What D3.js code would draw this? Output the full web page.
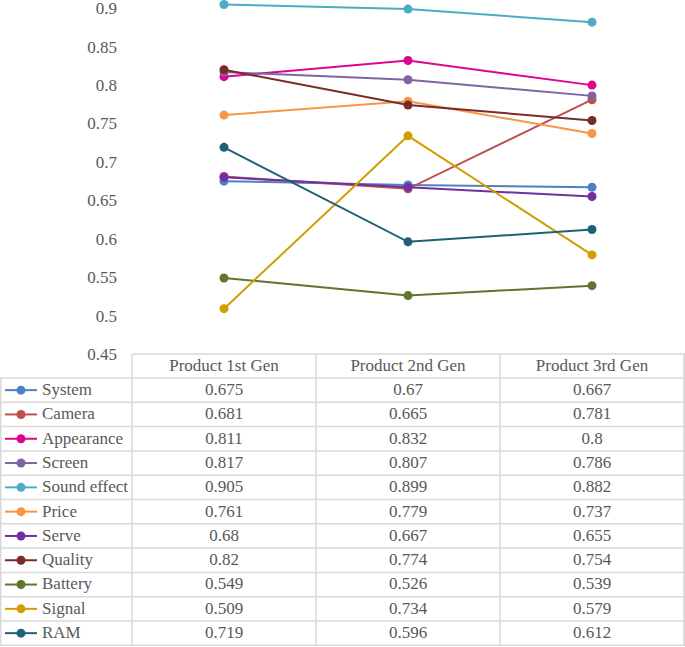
<!DOCTYPE html>
<html><head><meta charset="utf-8">
<script src="https://cdn.jsdelivr.net/npm/d3@7"></script>
<style>body{margin:0;background:#fff}svg{display:block}svg text{font-family:"Liberation Serif","Times New Roman","DejaVu Serif",serif !important;}</style>
</head><body><svg id="c" width="685" height="647"></svg>
<script>
const categories = ["Product 1st Gen","Product 2nd Gen","Product 3rd Gen"];
const seriesNames = ["System","Camera","Appearance","Screen","Sound effect","Price","Serve","Quality","Battery","Signal","RAM"];
const System = [0.675,0.67,0.667];
const Camera = [0.681,0.665,0.781];
const Appearance = [0.811,0.832,0.8];
const Screen = [0.817,0.807,0.786];
const SoundEffect = [0.905,0.899,0.882];
const Price = [0.761,0.779,0.737];
const Serve = [0.68,0.667,0.655];
const Quality = [0.82,0.774,0.754];
const Battery = [0.549,0.526,0.539];
const Signal = [0.509,0.734,0.579];
const RAM = [0.719,0.596,0.612];
const seriesValues = [System,Camera,Appearance,Screen,SoundEffect,Price,Serve,Quality,Battery,Signal,RAM];
const colors = ["#4f7fc4","#c0504d","#dd0590","#8064a2","#4bacc6","#f79646","#7030a0","#772c2a","#5f7530","#d19e00","#1f6275"];
const yTicks = [0.45,0.5,0.55,0.6,0.65,0.7,0.75,0.8,0.85,0.9];

(function(){
const svg = d3.select("#c");
const textCol = "#595959", gridCol = "#d9d9d9", fs = 17;

const x = d3.scaleBand().domain(categories).range([132,684]);
const y = d3.scaleLinear().domain([0.45,0.9]).range([354,8.3]);

const yAxis = d3.axisLeft(y).tickValues(yTicks).tickSize(0).tickPadding(0)
  .tickFormat(d => String(+d.toFixed(2)));
const ga = svg.append("g").attr("transform","translate(117,0)").call(yAxis);
ga.select(".domain").remove();
ga.attr("font-size",fs);
ga.selectAll("text").attr("font-size",fs).attr("fill",textCol);

const line = d3.line().x((d,i)=>x(categories[i])+x.bandwidth()/2).y(d=>y(d));
seriesValues.forEach((vals,k)=>{
  svg.append("path").attr("d",line(vals)).attr("fill","none").attr("stroke",colors[k]).attr("stroke-width",2);
});
seriesValues.forEach((vals,k)=>{
  svg.selectAll(null).data(vals).enter().append("circle")
    .attr("cx",(d,i)=>x(categories[i])+x.bandwidth()/2).attr("cy",d=>y(d)).attr("r",4.5)
    .attr("fill",colors[k]);
});

const rowH = 24.3, tTop = 354, headH = 24;
const rows = d3.scaleBand().domain(seriesNames).range([tTop+headH, tTop+headH+rowH*seriesNames.length]);
const t = svg.append("g");
t.append("line").attr("x1",132).attr("x2",685).attr("y1",tTop).attr("y2",tTop).attr("stroke",gridCol).attr("stroke-width",1.5);
categories.forEach(c=>{
  t.append("text").attr("x",x(c)+x.bandwidth()/2).attr("y",tTop+headH/2+1).attr("text-anchor","middle")
   .attr("dominant-baseline","middle").attr("font-size",fs).attr("fill",textCol).text(c);
});
const yEnd = tTop+headH+rowH*seriesNames.length;
seriesNames.forEach(n=>{
  t.append("line").attr("x1",0).attr("x2",685).attr("y1",rows(n)).attr("y2",rows(n)).attr("stroke",gridCol).attr("stroke-width",1.5);
});
t.append("line").attr("x1",0).attr("x2",685).attr("y1",yEnd).attr("y2",yEnd).attr("stroke",gridCol).attr("stroke-width",1.5);
t.append("line").attr("x1",0.75).attr("x2",0.75).attr("y1",tTop+headH).attr("y2",yEnd).attr("stroke",gridCol).attr("stroke-width",1.5);
[132, ...categories.map(c=>x(c)+x.bandwidth()), 684.25].forEach(xx=>{
  t.append("line").attr("x1",xx).attr("x2",xx).attr("y1",tTop).attr("y2",yEnd).attr("stroke",gridCol).attr("stroke-width",1.5);
});
seriesNames.forEach((n,k)=>{
  const cy = rows(n)+rows.bandwidth()/2;
  t.append("line").attr("x1",5).attr("x2",37).attr("y1",cy).attr("y2",cy).attr("stroke",colors[k]).attr("stroke-width",2);
  t.append("circle").attr("cx",21).attr("cy",cy).attr("r",4.5).attr("fill",colors[k]);
  t.append("text").attr("x",42).attr("y",cy+1).attr("dominant-baseline","middle")
   .attr("font-size",fs).attr("fill",textCol).text(n);
  seriesValues[k].forEach((v,i)=>{
    t.append("text").attr("x",x(categories[i])+x.bandwidth()/2).attr("y",cy+1).attr("text-anchor","middle")
     .attr("dominant-baseline","middle").attr("font-size",fs).attr("fill",textCol).text(String(v));
  });
});
})();
</script></body></html>
